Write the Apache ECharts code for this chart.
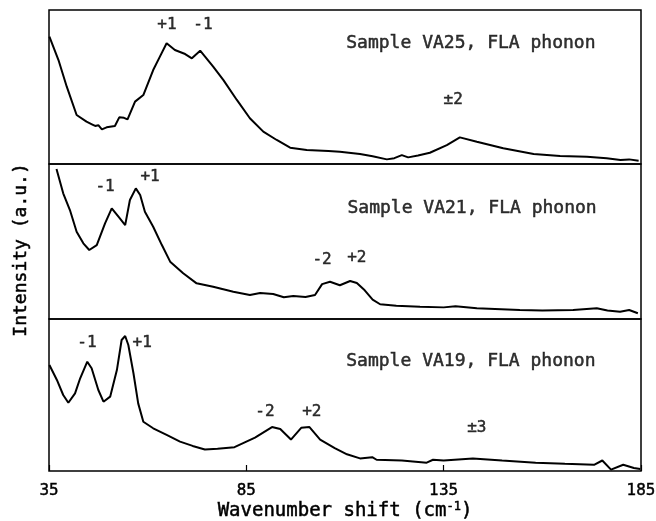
<!DOCTYPE html>
<html><head><meta charset="utf-8">
<script src="https://cdn.jsdelivr.net/npm/echarts@6/dist/echarts.min.js"></script>
<style>html,body{margin:0;padding:0;background:#fff}#c{width:656px;height:521px}</style>
</head><body><div id="c"></div>
<script>
// x axis (wavenumber shift, cm^-1)
const xMin = 35, xMax = 185, xStep = 50;

// Sample VA25 (top panel), intensity in arbitrary units (0-100 per panel)
const va25 = [[35.1,82.7],[37.4,67.5],[39.5,50.2],[42.0,31.8],[44.5,27.5],[46.0,25.6],[46.7,24.7],[47.5,25.2],[48.4,22.5],[49.6,23.8],[51.7,24.7],[52.8,30.3],[54.0,30.0],[54.9,29.0],[56.8,40.5],[58.9,44.8],[61.4,61.0],[63.1,69.7],[64.8,78.4],[66.9,74.0],[69.5,71.4],[71.2,68.6],[73.3,73.6],[76.6,63.2],[79.2,54.5],[82.6,41.6],[85.9,29.7],[89.3,21.0],[92.7,15.6],[96.1,10.6],[100.3,9.1],[105.8,8.4],[108.7,8.0],[113.8,6.5],[117.0,5.0],[120.6,3.0],[122.5,3.8],[124.4,5.8],[126.0,4.3],[128.5,5.5],[131.5,7.3],[135.8,12.3],[139.1,17.3],[143.4,14.5],[150.1,10.2],[157.8,6.5],[164.5,5.2],[171.3,4.7],[176.3,3.7],[179.8,2.6],[182.0,3.0],[184.4,2.1]];

// Sample VA21 (middle panel)
const va21 = [[36.9,96.8],[38.6,81.1],[40.3,70.3],[42.0,56.3],[43.7,48.8],[45.2,44.5],[47.1,47.7],[49.2,61.7],[50.9,71.4],[52.6,66.0],[54.3,60.6],[55.5,76.8],[57.0,84.3],[58.1,80.0],[59.3,69.2],[61.4,59.5],[63.6,47.7],[65.7,37.0],[69.0,29.5],[72.4,23.0],[76.6,20.8],[81.7,17.6],[85.9,15.5],[88.5,16.8],[91.8,16.1],[94.5,14.0],[96.9,14.8],[100.0,14.2],[102.4,15.5],[104.2,22.5],[106.2,24.0],[108.7,21.8],[111.3,24.5],[113.0,23.2],[115.0,18.5],[117.0,12.5],[118.9,9.5],[123.0,8.5],[129.0,7.9],[135.0,7.5],[138.0,8.2],[143.4,6.9],[148.0,6.5],[154.3,5.8],[160.0,5.5],[167.8,5.8],[173.8,6.9],[176.5,5.5],[179.7,4.7],[182.0,5.8],[184.2,3.7]];

// Sample VA19 (bottom panel)
const va19 = [[35.1,69.7],[37.0,59.9],[38.6,50.0],[39.9,44.9],[41.6,51.1],[42.9,61.0],[44.7,71.9],[45.8,67.6],[47.5,53.3],[48.8,45.6],[50.5,48.9],[52.2,66.4],[53.4,86.2],[54.3,88.8],[55.1,82.9],[56.4,64.3],[57.6,44.5],[58.9,32.4],[61.4,28.1],[64.8,23.7],[68.2,19.3],[71.4,16.5],[74.5,14.2],[77.7,14.6],[82.0,15.7],[87.2,22.0],[91.5,28.9],[93.6,27.6],[96.3,20.7],[98.9,28.4],[101.0,28.9],[103.7,20.7],[107.4,15.1],[110.5,11.0],[113.8,8.3],[116.9,9.1],[118.0,7.4],[124.4,6.9],[130.7,5.5],[132.3,7.4],[135.0,6.9],[142.4,8.3],[149.8,6.9],[158.3,5.5],[165.7,4.7],[173.1,4.1],[175.2,6.9],[177.4,0.9],[180.5,4.1],[183.2,2.0],[184.8,1.3]];

// Annotations: [text, x, y]
const notes25 = [['+1',64.9,90.3],['-1',74.0,90.3],['\u00b12',137.4,41.6]];
const notes21 = [['-1',49.2,85.2],['+1',60.6,91.6],['-2',104.2,38.1],['+2',113.0,39.4]];
const notes19 = [['-1',44.6,84.2],['+1',58.6,84.2],['-2',89.7,38.8],['+2',101.6,38.8],['\u00b13',143.4,28.3]];
const titles = [['Sample VA25, FLA phonon',141.9,78.6],['Sample VA21, FLA phonon',142.2,71.6],['Sample VA19, FLA phonon',141.9,72.4]];

const FONT = 'DejaVu Sans Mono';
const INK = {color:'#000', textBorderColor:'#000', textBorderWidth:0.5};
const chart = echarts.init(document.getElementById('c'), null, {renderer:'canvas'});
const gridDefs = [{top:10,height:154},{top:164,height:155},{top:319,height:152}];
const curves = [va25, va21, va19];
const notes = [notes25, notes21, notes19];

const grid = gridDefs.map(g => ({left:49, right:15, top:g.top, height:g.height, show:true, borderColor:'#000', borderWidth:1.5, backgroundColor:'transparent', containLabel:false, outerBoundsMode:'none'}));
const xAxis = gridDefs.map((g,i) => ({
  type:'value', gridIndex:i, min:xMin, max:xMax, interval:xStep,
  axisLine:{show:false}, splitLine:{show:false},
  axisTick:{show:i===2, inside:true, length:6, lineStyle:{color:'#000', width:1.2}},
  axisLabel:{show:i===2, fontSize:15, fontFamily:'DejaVu Sans', margin:13, ...INK},
  name: i===2 ? '{a|Wavenumber shift (cm}{s|-1}{a|)}' : '',
  nameLocation:'middle', nameGap:29,
  nameTextStyle:{rich:{a:{fontFamily:FONT, fontSize:19, ...INK}, s:{fontFamily:FONT, fontSize:12, ...INK, verticalAlign:'top', padding:[0,0,9,0]}}}
}));
const yAxis = gridDefs.map((g,i) => ({type:'value', gridIndex:i, min:0, max:100, show:false}));

const series = [];
curves.forEach((d,i) => series.push({type:'line', xAxisIndex:i, yAxisIndex:i, data:d, symbol:'none', smooth:false, lineStyle:{color:'#000', width:2}, silent:true}));
notes.forEach((n,i) => series.push({type:'scatter', xAxisIndex:i, yAxisIndex:i, symbolSize:0, silent:true,
  data:n.map(t => [t[1], t[2], t[0]]),
  label:{show:true, position:'inside', formatter:p => p.data[2], fontSize:16, fontFamily:FONT, ...INK}}));
series.push(...titles.map((t,i) => ({type:'scatter', xAxisIndex:i, yAxisIndex:i, symbolSize:0, silent:true,
  data:[[t[1], t[2], t[0]]],
  label:{show:true, position:'inside', formatter:p => p.data[2], fontSize:18, fontFamily:FONT, ...INK}})));

chart.setOption({
  animation:false,
  backgroundColor:'#fff',
  grid, xAxis, yAxis, series,
  graphic:[{type:'text', left:12, top:163, rotation:Math.PI/2, style:{text:'Intensity (a.u.)', font:'18px "DejaVu Sans Mono"', fill:'#000', stroke:'#000', lineWidth:0.5}}]
});
</script></body></html>
